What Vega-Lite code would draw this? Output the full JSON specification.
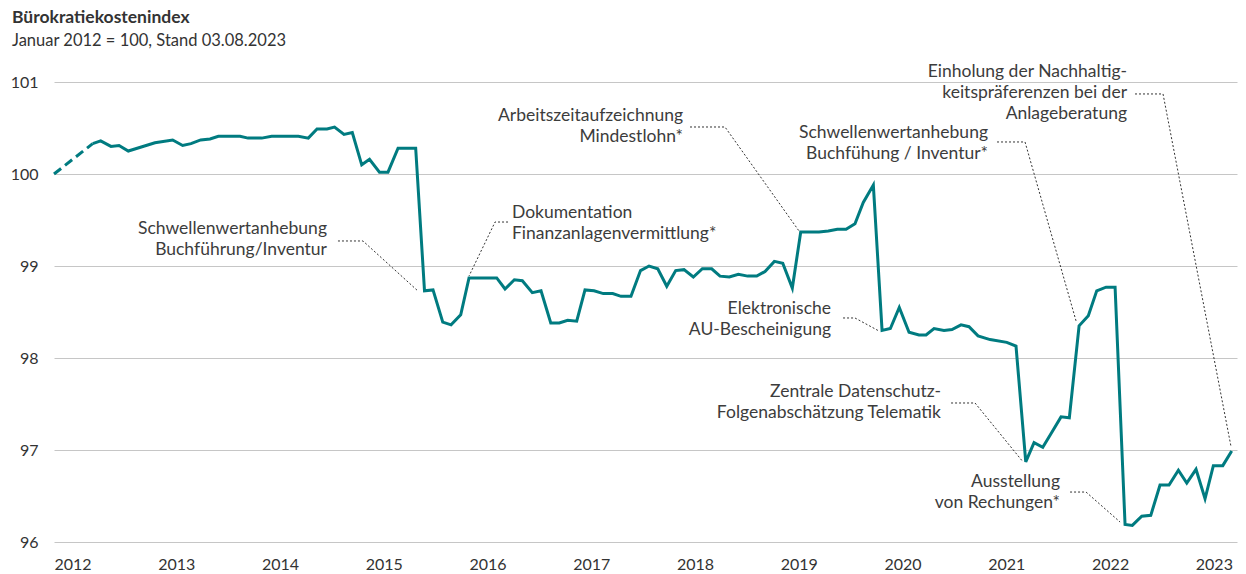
{
  "$schema": "https://vega.github.io/schema/vega-lite/v6.json",
  "width": 1183,
  "height": 460,
  "autosize": {"type": "none"},
  "padding": {"left": 54, "top": 82, "right": 9, "bottom": 32},
  "background": "white",
  "config": {
    "view": {"stroke": null},
    "font": "Lato",
    "text": {"font": "Lato"}
  },
  "title": {
    "text": "Bürokratiekostenindex",
    "subtitle": "Januar 2012 = 100, Stand 03.08.2023",
    "anchor": "start",
    "frame": "group",
    "dx": -42,
    "offset": 14,
    "font": "Lato",
    "fontSize": 17.5,
    "fontWeight": "bold",
    "color": "#333333",
    "subtitleFont": "Lato",
    "subtitleFontSize": 16.5,
    "subtitleColor": "#333333",
    "subtitlePadding": 6
  },
  "datasets": {
    "start": [
      {"jahr": 2012.0, "wert": 100.0},
      {"jahr": 2012.373, "wert": 100.33}
    ],
    "bki": [
      {"jahr": 2012.373, "wert": 100.33},
      {"jahr": 2012.450, "wert": 100.36},
      {"jahr": 2012.549, "wert": 100.30},
      {"jahr": 2012.627, "wert": 100.31},
      {"jahr": 2012.716, "wert": 100.25},
      {"jahr": 2012.973, "wert": 100.34},
      {"jahr": 2013.144, "wert": 100.37},
      {"jahr": 2013.240, "wert": 100.31},
      {"jahr": 2013.320, "wert": 100.33},
      {"jahr": 2013.414, "wert": 100.37},
      {"jahr": 2013.504, "wert": 100.38},
      {"jahr": 2013.584, "wert": 100.41},
      {"jahr": 2013.793, "wert": 100.41},
      {"jahr": 2013.870, "wert": 100.39},
      {"jahr": 2014.002, "wert": 100.39},
      {"jahr": 2014.098, "wert": 100.41},
      {"jahr": 2014.355, "wert": 100.41},
      {"jahr": 2014.451, "wert": 100.39},
      {"jahr": 2014.535, "wert": 100.49},
      {"jahr": 2014.631, "wert": 100.49},
      {"jahr": 2014.704, "wert": 100.51},
      {"jahr": 2014.795, "wert": 100.43},
      {"jahr": 2014.875, "wert": 100.45},
      {"jahr": 2014.966, "wert": 100.10},
      {"jahr": 2015.041, "wert": 100.16},
      {"jahr": 2015.137, "wert": 100.02},
      {"jahr": 2015.219, "wert": 100.02},
      {"jahr": 2015.316, "wert": 100.28},
      {"jahr": 2015.486, "wert": 100.28},
      {"jahr": 2015.571, "wert": 98.73},
      {"jahr": 2015.653, "wert": 98.74},
      {"jahr": 2015.747, "wert": 98.39},
      {"jahr": 2015.827, "wert": 98.36},
      {"jahr": 2015.920, "wert": 98.47},
      {"jahr": 2016.000, "wert": 98.87},
      {"jahr": 2016.267, "wert": 98.87},
      {"jahr": 2016.347, "wert": 98.75},
      {"jahr": 2016.437, "wert": 98.85},
      {"jahr": 2016.514, "wert": 98.84},
      {"jahr": 2016.610, "wert": 98.71},
      {"jahr": 2016.694, "wert": 98.73},
      {"jahr": 2016.788, "wert": 98.38},
      {"jahr": 2016.870, "wert": 98.38},
      {"jahr": 2016.951, "wert": 98.41},
      {"jahr": 2017.038, "wert": 98.40},
      {"jahr": 2017.118, "wert": 98.74},
      {"jahr": 2017.205, "wert": 98.73},
      {"jahr": 2017.294, "wert": 98.70},
      {"jahr": 2017.385, "wert": 98.70},
      {"jahr": 2017.465, "wert": 98.67},
      {"jahr": 2017.561, "wert": 98.67},
      {"jahr": 2017.653, "wert": 98.95},
      {"jahr": 2017.735, "wert": 99.00},
      {"jahr": 2017.819, "wert": 98.97},
      {"jahr": 2017.906, "wert": 98.78},
      {"jahr": 2017.992, "wert": 98.95},
      {"jahr": 2018.072, "wert": 98.96},
      {"jahr": 2018.162, "wert": 98.88},
      {"jahr": 2018.249, "wert": 98.97},
      {"jahr": 2018.339, "wert": 98.97},
      {"jahr": 2018.419, "wert": 98.89},
      {"jahr": 2018.509, "wert": 98.88},
      {"jahr": 2018.596, "wert": 98.91},
      {"jahr": 2018.686, "wert": 98.89},
      {"jahr": 2018.773, "wert": 98.89},
      {"jahr": 2018.853, "wert": 98.94},
      {"jahr": 2018.943, "wert": 99.05},
      {"jahr": 2019.024, "wert": 99.03},
      {"jahr": 2019.116, "wert": 98.76},
      {"jahr": 2019.197, "wert": 99.37},
      {"jahr": 2019.373, "wert": 99.37},
      {"jahr": 2019.463, "wert": 99.38},
      {"jahr": 2019.550, "wert": 99.40},
      {"jahr": 2019.634, "wert": 99.40},
      {"jahr": 2019.720, "wert": 99.46},
      {"jahr": 2019.800, "wert": 99.69},
      {"jahr": 2019.897, "wert": 99.88},
      {"jahr": 2019.981, "wert": 98.30},
      {"jahr": 2020.061, "wert": 98.32},
      {"jahr": 2020.147, "wert": 98.55},
      {"jahr": 2020.241, "wert": 98.28},
      {"jahr": 2020.337, "wert": 98.25},
      {"jahr": 2020.405, "wert": 98.25},
      {"jahr": 2020.482, "wert": 98.32},
      {"jahr": 2020.578, "wert": 98.30},
      {"jahr": 2020.655, "wert": 98.31},
      {"jahr": 2020.742, "wert": 98.36},
      {"jahr": 2020.819, "wert": 98.34},
      {"jahr": 2020.906, "wert": 98.24},
      {"jahr": 2021.022, "wert": 98.20},
      {"jahr": 2021.183, "wert": 98.17},
      {"jahr": 2021.272, "wert": 98.13},
      {"jahr": 2021.366, "wert": 96.87},
      {"jahr": 2021.446, "wert": 97.08},
      {"jahr": 2021.530, "wert": 97.03},
      {"jahr": 2021.616, "wert": 97.19},
      {"jahr": 2021.706, "wert": 97.36},
      {"jahr": 2021.786, "wert": 97.35},
      {"jahr": 2021.880, "wert": 98.35},
      {"jahr": 2021.969, "wert": 98.46},
      {"jahr": 2022.050, "wert": 98.73},
      {"jahr": 2022.140, "wert": 98.77},
      {"jahr": 2022.227, "wert": 98.77},
      {"jahr": 2022.323, "wert": 96.19},
      {"jahr": 2022.393, "wert": 96.18},
      {"jahr": 2022.484, "wert": 96.28},
      {"jahr": 2022.571, "wert": 96.29},
      {"jahr": 2022.660, "wert": 96.62},
      {"jahr": 2022.747, "wert": 96.62},
      {"jahr": 2022.837, "wert": 96.78},
      {"jahr": 2022.918, "wert": 96.64},
      {"jahr": 2023.007, "wert": 96.79},
      {"jahr": 2023.094, "wert": 96.47},
      {"jahr": 2023.174, "wert": 96.83},
      {"jahr": 2023.265, "wert": 96.83},
      {"jahr": 2023.351, "wert": 96.99}
    ],
    "notizen": [
      {"id": 1, "jahr": 2014.631, "wert": 99.348, "text": "Schwellenwertanhebung\nBuchführung/Inventur"},
      {"id": 2, "jahr": 2016.414, "wert": 99.522, "text": "Dokumentation\nFinanzanlagenvermittlung*"},
      {"id": 3, "jahr": 2018.063, "wert": 100.576, "text": "Arbeitszeitaufzeichnung\nMindestlohn*"},
      {"id": 4, "jahr": 2021.002, "wert": 100.391, "text": "Schwellenwertanhebung\nBuchfühung / Inventur*"},
      {"id": 5, "jahr": 2019.489, "wert": 98.478, "text": "Elektronische\nAU-Bescheinigung"},
      {"id": 6, "jahr": 2020.549, "wert": 97.576, "text": "Zentrale Datenschutz-\nFolgenabschätzung Telematik"},
      {"id": 7, "jahr": 2021.696, "wert": 96.598, "text": "Ausstellung\nvon Rechungen*"},
      {"id": 8, "jahr": 2022.342, "wert": 101.054, "text": "Einholung der Nachhaltig-\nkeitspräferenzen bei der\nAnlageberatung"}
    ],
    "verbinder": [
      {"id": 1, "n": 1, "jahr": 2014.737, "wert": 99.272},
      {"id": 1, "n": 2, "jahr": 2014.978, "wert": 99.272},
      {"id": 1, "n": 3, "jahr": 2015.508, "wert": 98.728},
      {"id": 2, "n": 1, "jahr": 2016.376, "wert": 99.478},
      {"id": 2, "n": 2, "jahr": 2016.251, "wert": 99.478},
      {"id": 2, "n": 3, "jahr": 2016.000, "wert": 98.891},
      {"id": 3, "n": 1, "jahr": 2018.130, "wert": 100.511},
      {"id": 3, "n": 2, "jahr": 2018.467, "wert": 100.511},
      {"id": 3, "n": 3, "jahr": 2019.181, "wert": 99.380},
      {"id": 4, "n": 1, "jahr": 2021.089, "wert": 100.348},
      {"id": 4, "n": 2, "jahr": 2021.359, "wert": 100.348},
      {"id": 4, "n": 3, "jahr": 2021.851, "wert": 98.402},
      {"id": 5, "n": 1, "jahr": 2019.605, "wert": 98.435},
      {"id": 5, "n": 2, "jahr": 2019.720, "wert": 98.435},
      {"id": 5, "n": 3, "jahr": 2019.952, "wert": 98.293},
      {"id": 6, "n": 1, "jahr": 2020.646, "wert": 97.511},
      {"id": 6, "n": 2, "jahr": 2020.877, "wert": 97.511},
      {"id": 6, "n": 3, "jahr": 2021.340, "wert": 96.870},
      {"id": 7, "n": 1, "jahr": 2021.793, "wert": 96.543},
      {"id": 7, "n": 2, "jahr": 2021.947, "wert": 96.543},
      {"id": 7, "n": 3, "jahr": 2022.275, "wert": 96.217},
      {"id": 8, "n": 1, "jahr": 2022.419, "wert": 100.870},
      {"id": 8, "n": 2, "jahr": 2022.689, "wert": 100.870},
      {"id": 8, "n": 3, "jahr": 2023.345, "wert": 97.033}
    ]
  },
  "encoding": {
    "x": {
      "field": "jahr",
      "type": "quantitative",
      "scale": {"domain": [2012, 2023.402], "nice": false, "zero": false},
      "axis": {
        "title": null,
        "values": [2012, 2013, 2014, 2015, 2016, 2017, 2018, 2019, 2020, 2021, 2022, 2023],
        "format": "d",
        "grid": false,
        "ticks": false,
        "domain": false,
        "labelAlign": "left",
        "labelBaseline": "top",
        "labelPadding": 14,
        "labelFont": "Lato",
        "labelFontSize": 16,
        "labelColor": "#333333",
        "labelFlush": false,
        "labelOverlap": false
      }
    },
    "y": {
      "field": "wert",
      "type": "quantitative",
      "scale": {"domain": [96, 101], "nice": false, "zero": false},
      "axis": {
        "title": null,
        "values": [96, 97, 98, 99, 100, 101],
        "format": "d",
        "grid": true,
        "gridColor": "#c6c6c6",
        "gridWidth": 1,
        "ticks": false,
        "domain": false,
        "labelPadding": 16,
        "labelFont": "Lato",
        "labelFontSize": 16,
        "labelColor": "#333333"
      }
    }
  },
  "layer": [
    {
      "data": {"name": "verbinder"},
      "mark": {"type": "line", "stroke": "#333333", "strokeWidth": 1, "strokeDash": [2, 2], "clip": false},
      "encoding": {
        "detail": {"field": "id", "type": "nominal"},
        "order": {"field": "n", "type": "quantitative"}
      }
    },
    {
      "data": {"name": "start"},
      "mark": {"type": "line", "stroke": "#007b80", "strokeWidth": 3, "strokeDash": [9, 5]},
      "encoding": {}
    },
    {
      "data": {"name": "bki"},
      "mark": {"type": "line", "stroke": "#007b80", "strokeWidth": 3, "strokeJoin": "miter"},
      "encoding": {}
    },
    {
      "data": {"name": "notizen"},
      "transform": [{"filter": "datum.id != 2"}],
      "mark": {"type": "text", "align": "right", "baseline": "alphabetic", "lineBreak": "\n", "lineHeight": 21, "font": "Lato", "fontSize": 17.5, "color": "#3c3c3c", "clip": false},
      "encoding": {"text": {"field": "text"}}
    },
    {
      "data": {"name": "notizen"},
      "transform": [{"filter": "datum.id == 2"}],
      "mark": {"type": "text", "align": "left", "baseline": "alphabetic", "lineBreak": "\n", "lineHeight": 21, "font": "Lato", "fontSize": 17.5, "color": "#3c3c3c", "clip": false},
      "encoding": {"text": {"field": "text"}}
    }
  ]
}
